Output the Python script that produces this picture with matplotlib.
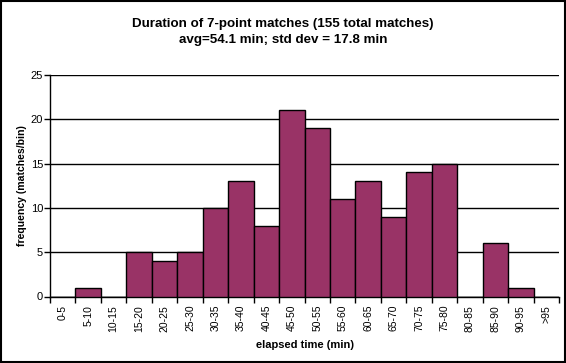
import numpy as np
import matplotlib.pyplot as plt
from matplotlib.patches import Rectangle

plt.rcParams['font.family'] = ['Liberation Sans', 'DejaVu Sans']

# histogram bins and counts
bins = ["0-5", "5-10", "10-15", "15-20", "20-25", "25-30", "30-35", "35-40",
        "40-45", "45-50", "50-55", "55-60", "60-65", "65-70", "70-75", "75-80",
        "80-85", "85-90", "90-95", ">95"]
counts = [0, 1, 0, 5, 4, 5, 10, 13, 8, 21, 19, 11, 13, 9, 14, 15, 0, 6, 1, 0]
yticks = [0, 5, 10, 15, 20, 25]

fig = plt.figure(figsize=(5.66, 3.63), dpi=100)
ax = fig.add_axes([50 / 566, 1 - 296.5 / 363, 509 / 566, 221.5 / 363])

x = np.arange(len(bins))
ax.bar(x, counts, width=1.0, color="#993366", edgecolor="black", linewidth=1.0, zorder=3)

ax.set_xlim(-0.5, len(bins) - 0.5)
ax.set_ylim(0, 25)
ax.set_yticks(yticks)
ax.yaxis.grid(True, color="black", linewidth=1.0, zorder=0)

# tick marks on the bin edges, labels in the middle
ax.set_xticks(np.arange(len(bins) + 1) - 0.5)
ax.set_xticklabels([])
ax.set_xticks(x, minor=True)
ax.set_xticklabels(bins, minor=True, rotation=90, fontsize=7.5)
ax.tick_params(axis="x", which="minor", length=0, pad=6)
ax.tick_params(axis="x", which="major", length=4, width=1, color="black")
ax.tick_params(axis="y", length=4, width=1, labelsize=8, pad=1)

for side in ["top", "right"]:
    ax.spines[side].set_visible(False)
ax.spines["left"].set_linewidth(1.0)
ax.spines["bottom"].set_linewidth(1.0)

ax.set_xlabel("elapsed time (min)", fontsize=8, fontweight="bold", labelpad=6)
ax.set_ylabel("frequency (matches/bin)", fontsize=7.6, fontweight="bold", labelpad=3)

fig.text(0.5, 1 - 32 / 363, "Duration of 7-point matches (155 total matches)\navg=54.1 min; std dev = 17.8 min",
         ha="center", va="center", fontsize=9.6, fontweight="bold", linespacing=1.5)

# outer frame
fig.patches.append(Rectangle((0.001, 0.002), 0.997, 0.996, transform=fig.transFigure,
                             fill=False, edgecolor="black", linewidth=1.5))

fig.savefig("out.png", dpi=100)
